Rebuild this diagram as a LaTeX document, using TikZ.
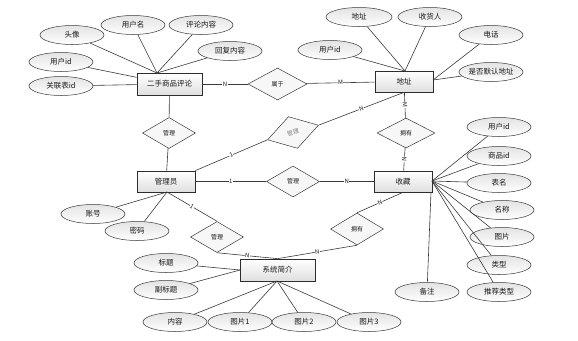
\documentclass[tikz,border=0pt]{standalone}
\usepackage{fontspec}
\setmainfont{Noto Sans CJK SC}
\usetikzlibrary{shapes.geometric,shadows}
\begin{document}
\begin{tikzpicture}[x=1pt,y=-1pt,
 every node/.style={font=\fontsize{7.5}{8}\selectfont, text=black!90},
 attr/.style={ellipse, draw=gray!45!black, line width=0.5pt, top color=gray!22, bottom color=white, minimum width=64pt, minimum height=19pt, inner sep=0pt},
 ent/.style={rectangle, draw=gray!35!black, line width=0.7pt, top color=white, bottom color=gray!25, minimum width=58pt, minimum height=21pt, inner sep=0pt, drop shadow={shadow xshift=1pt, shadow yshift=-1pt, opacity=0.35, fill=gray}},
 rel/.style={diamond, draw=gray!45!black, line width=0.5pt, fill=gray!6, minimum width=53pt, minimum height=31pt, inner sep=0pt, font=\fontsize{6}{6}\selectfont},
 conn/.style={draw=gray!45!black, line width=0.6pt},
 lbl/.style={fill=white, inner sep=0.4pt, font=\fontsize{6}{6}\selectfont}]
\useasboundingbox (0,0) rectangle (578,340);
% entities
\node[ent, minimum width=65pt, minimum height=22pt] (pl) at (169.5,84) {二手商品评论};
\node[ent] (addr) at (404,81.5) {地址};
\node[ent] (adm) at (166,181.5) {管理员};
\node[ent] (fav) at (403,181.5) {收藏};
\node[ent, minimum width=75pt, minimum height=22pt] (sys) at (277.5,270) {系统简介};
% relationships
\node[rel, minimum width=59pt, minimum height=32pt] (r1) at (277.5,84) {属于};
\node[rel] (r2) at (169,133) {管理};
\node[rel, rotate=16, text=gray, minimum height=33pt] (r3) at (293,132.5) {管理};
\node[rel] (r4) at (293,181.5) {管理};
\node[rel, minimum width=58pt, minimum height=30pt] (r5) at (406,133) {拥有};
\node[rel] (r6) at (217,237) {管理};
\node[rel, minimum height=32pt] (r7) at (357,229) {拥有};
% attributes of 二手商品评论
\node[attr] (a1) at (72,35) {头像};
\node[attr] (a2) at (133,25) {用户名};
\node[attr] (a3) at (201,25) {评论内容};
\node[attr] (a4) at (230,51) {回复内容};
\node[attr] (a5) at (61,62) {用户id};
\node[attr] (a6) at (61,86) {关联表id};
% attributes of 地址
\node[attr, minimum width=66pt] (b1) at (359,17) {地址};
\node[attr] (b2) at (430,17) {收货人};
\node[attr] (b3) at (491,35) {电话};
\node[attr] (b4) at (491,72) {是否默认地址};
\node[attr] (b5) at (330,50) {用户id};
% attributes of 收藏
\node[attr] (c1) at (499,127) {用户id};
\node[attr] (c2) at (499,156) {商品id};
\node[attr] (c3) at (499,183) {表名};
\node[attr] (c4) at (502,210) {名称};
\node[attr] (c5) at (502,237) {图片};
\node[attr] (c6) at (499,265) {类型};
\node[attr] (c7) at (499,292) {推荐类型};
\node[attr] (c8) at (427,292) {备注};
% attributes of 管理员
\node[attr] (d1) at (93,214) {账号};
\node[attr] (d2) at (137,231) {密码};
% attributes of 系统简介
\node[attr] (e1) at (166,263) {标题};
\node[attr] (e2) at (166,290) {副标题};
\node[attr] (e3) at (175,322) {内容};
\node[attr] (e4) at (240,322) {图片1};
\node[attr] (e5) at (304,322) {图片2};
\node[attr] (e6) at (369,322) {图片3};
% anchor coordinates
\coordinate (plt) at (157,73);
\coordinate (addrt) at (405,71);
\coordinate (addrr) at (433,80);
\coordinate (favr) at (432,181);
\coordinate (favb) at (431,192);
\coordinate (admb) at (167,192);
\coordinate (sysl) at (240,270);
\coordinate (sysb) at (277,281);
% attribute connectors
\foreach \n in {a1,a2,a3,a4} \draw[conn] (plt) -- (\n);
\foreach \n in {a5,a6} \draw[conn] (\n) -- (pl);
\foreach \n in {b1,b2,b5} \draw[conn] (addrt) -- (\n);
\foreach \n in {b3,b4} \draw[conn] (addrr) -- (\n);
\foreach \n in {c1,c2,c3,c4,c5,c6,c7} \draw[conn] (favr) -- (\n);
\draw[conn] (favb) -- (c8);
\foreach \n in {d1,d2} \draw[conn] (admb) -- (\n);
\foreach \n in {e1,e2} \draw[conn] (sysl) -- (\n);
\foreach \n in {e3,e4,e5,e6} \draw[conn] (sysb) -- (\n);
% relationship connectors
\draw[conn] (pl) -- node[lbl]{N} (r1);
\draw[conn] (r1) -- node[lbl]{M} (addr);
\draw[conn] (pl) -- (r2);
\draw[conn] (r2) -- (adm);
\draw[conn] (adm.north east) -- node[lbl,sloped]{1} (r3.west);
\draw[conn] (r3.east) -- node[lbl,sloped]{N} (addr.south);
\draw[conn] (addr) -- node[lbl,sloped]{M} (r5);
\draw[conn] (r5) -- node[lbl,sloped]{N} (fav);
\draw[conn] (adm) -- node[lbl]{1} (r4);
\draw[conn] (r4) -- node[lbl]{N} (fav);
\draw[conn] (admb) -- node[lbl,sloped]{1} (r6.north);
\draw[conn] (r6.south) -- node[lbl,sloped]{N} (sys.north);
\draw[conn] (r7.south) -- node[lbl,sloped]{N} (sys.north);
\draw[conn] (r7.north) -- node[lbl,sloped]{N} (fav.south);
\end{tikzpicture}
\end{document}
